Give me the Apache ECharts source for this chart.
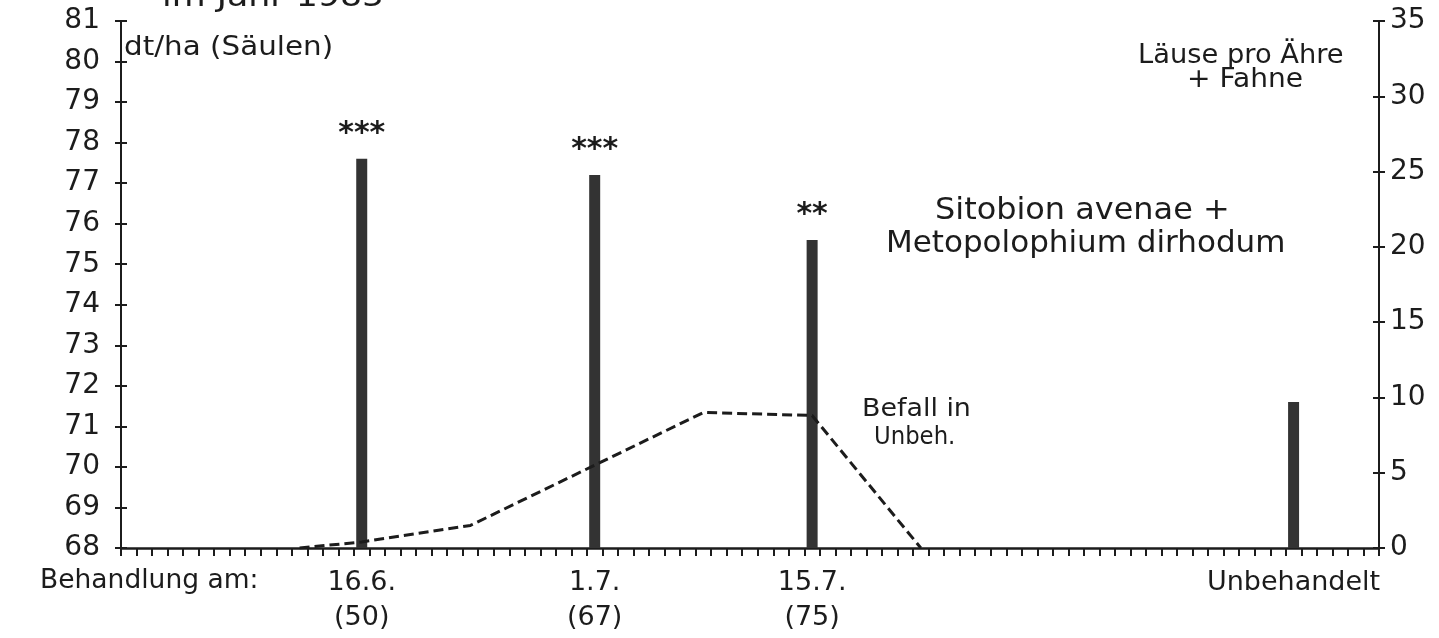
<!DOCTYPE html>
<html><head><meta charset="utf-8">
<script src="https://cdn.jsdelivr.net/npm/echarts@6/dist/echarts.min.js"></script>
<style>html,body{margin:0;padding:0;background:#fff}#c{width:1439px;height:638px}</style>
</head><body><div id="c"></div>
<script>
// Days counted from 1 June (tick 0 = start of 1.6.)
const barDays = [15.5, 30.5, 44.5, 75.5];
const yieldValues = [77.6, 77.2, 75.6, 71.6];
const stars = ['***', '***', '**', ''];
const infestDays = [11.5, 15.5, 22.5, 37.5, 44.5, 51.5];
const infestValues = [0, 0.4, 1.5, 9.0, 8.8, 0];
const xLabelDays = [15.5, 30.5, 44.5, 75.5];
const xLabels = ['16.6.\n(50)', '1.7.\n(67)', '15.7.\n(75)', 'Unbehandelt'];
const leftMin = 68, leftMax = 81, leftStep = 1;
const rightMin = 0, rightMax = 35, rightStep = 5;
const dayMin = 0, dayMax = 81;

const FONT = 'DejaVu Sans';
const INK = '#1c1c1c';
const chart = echarts.init(document.getElementById('c'), null, {renderer: 'canvas'});

const gridBox = {left: 121, top: 21, width: 1258, height: 527};
function yAx(gi, pos, min, max, step, showLabel, tickInside) {
  return {
    type: 'value', gridIndex: gi, position: pos, min: min, max: max, interval: step,
    splitLine: {show: false},
    axisLine: {show: true, lineStyle: {color: INK, width: 2}},
    axisTick: {show: true, inside: tickInside, length: 6, lineStyle: {color: INK, width: 2}},
    axisLabel: {show: showLabel, color: INK, fontFamily: FONT, fontSize: 28, margin: pos === 'left' ? 21 : 11}
  };
}
function txt(left, top, text, size, sx) {
  return {type: 'text', left: left, top: top, scaleX: sx || 1,
    style: {text: text, font: size + 'px "DejaVu Sans"', fill: INK}};
}
const option = {
  animation: false,
  backgroundColor: '#fff',
  grid: [Object.assign({}, gridBox), Object.assign({}, gridBox)],
  xAxis: [{
    type: 'value', gridIndex: 0, min: dayMin, max: dayMax, interval: 1, position: 'bottom',
    splitLine: {show: false},
    axisLine: {show: true, lineStyle: {color: INK, width: 2.5}},
    axisTick: {show: true, length: 8, lineStyle: {color: INK, width: 2}},
    axisLabel: {show: false}
  }, {
    type: 'value', gridIndex: 1, min: dayMin, max: dayMax, position: 'bottom',
    splitLine: {show: false}, axisLine: {show: false}, axisTick: {show: false},
    axisLabel: {
      show: true, customValues: xLabelDays, color: INK, fontFamily: FONT, fontSize: 27,
      lineHeight: 35, margin: 17, verticalAlign: 'top',
      formatter: function (v) { const i = xLabelDays.indexOf(v); return i >= 0 ? xLabels[i] : ''; }
    }
  }],
  yAxis: [
    yAx(0, 'left', leftMin, leftMax, leftStep, true, false),
    yAx(0, 'right', rightMin, rightMax, rightStep, true, false),
    yAx(1, 'left', leftMin, leftMax, leftStep, false, true),
    yAx(1, 'right', rightMin, rightMax, rightStep, false, true)
  ],
  series: [{
    type: 'bar', xAxisIndex: 0, yAxisIndex: 0, barWidth: 11,
    itemStyle: {color: '#333'},
    data: barDays.map((d, i) => [d, yieldValues[i]]),
    label: {
      show: true, position: 'top', distance: 10, color: INK, fontFamily: FONT, fontSize: 30, fontWeight: 'bold',
      formatter: p => stars[p.dataIndex]
    }
  }, {
    type: 'line', xAxisIndex: 0, yAxisIndex: 1, symbol: 'none',
    lineStyle: {color: INK, width: 3, type: [10, 5]},
    data: infestDays.map((d, i) => [d, infestValues[i]])
  }],
  graphic: [
    txt(162, -17, 'im Jahr 1985', 30, 1.16),
    txt(124, 35, 'dt/ha (Säulen)', 26, 1.13),
    txt(1138, 43, 'Läuse pro Ähre', 26, 1.05),
    txt(1187, 67, '+ Fahne', 26, 1.08),
    txt(935, 195, 'Sitobion avenae +', 31, 1.03),
    txt(886, 228, 'Metopolophium dirhodum', 31, 1.0),
    txt(862, 398, 'Befall in', 24, 1.12),
    txt(874, 426, 'Unbeh.', 24, 0.95),
    txt(40, 568, 'Behandlung am:', 26, 1.02)
  ]
};
chart.setOption(option);
</script></body></html>
